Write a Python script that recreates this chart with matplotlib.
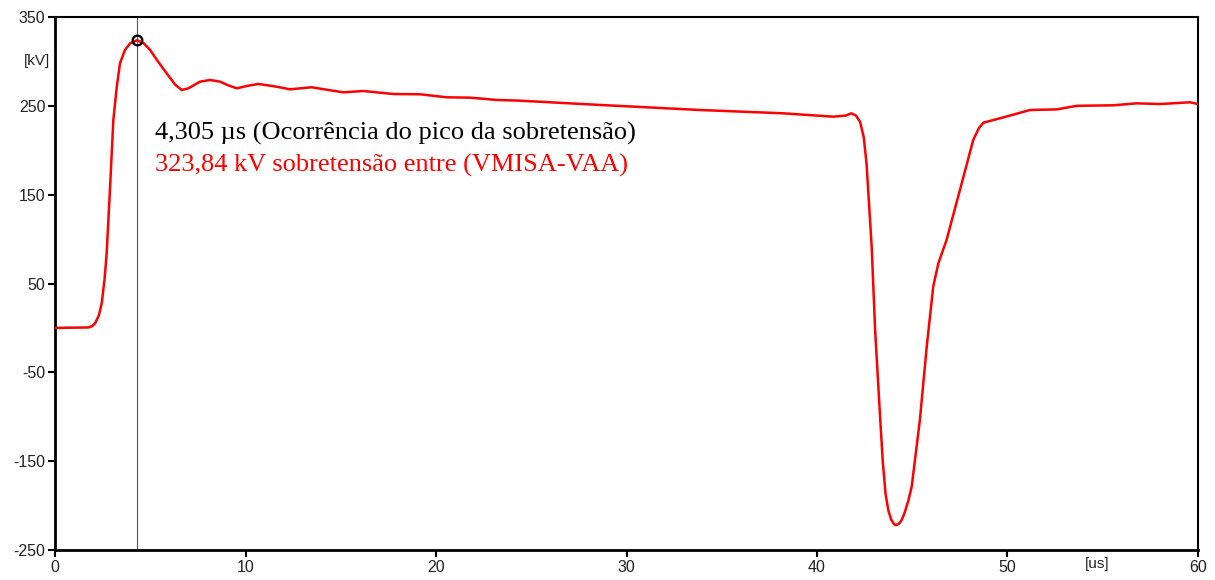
import numpy as np
import matplotlib.pyplot as plt

plt.rcParams['axes.unicode_minus'] = False

# tempo [us] e tensao [kV]
t_us = [0, 1.0, 1.75, 1.95, 2.1, 2.3, 2.45, 2.6, 2.71, 2.89, 3.06, 3.24, 3.41,
        3.67, 3.95, 4.305, 4.65, 4.99, 5.4, 5.86, 6.3, 6.65, 7.0, 7.61, 8.14,
        8.66, 9.1, 9.54, 10.1, 10.67, 11.5, 12.34, 13.47, 14.3, 15.13, 16.18,
        17.76, 19.16, 20.56, 21.78, 23.19, 24.4, 28.6, 33.86, 38.2, 40.86,
        41.5, 41.8, 42.05, 42.26, 42.45, 42.6, 42.87, 43.05, 43.3, 43.45,
        43.6, 43.75, 43.9, 44.05, 44.15, 44.3, 44.45, 44.6, 44.8, 44.97, 45.4,
        45.76, 46.1, 46.37, 46.8, 47.5, 48.2, 48.5, 48.73, 49.78, 51.18, 52.58,
        53.63, 55.56, 56.78, 58.0, 59.58, 60.0]
v_kv = [0, 0.3, 0.5, 2.0, 5.2, 14, 27.7, 55, 84, 159, 234, 271.5, 297.9,
        312.9, 320.5, 323.84, 320.5, 312.9, 300, 286.6, 274, 267.8, 269.7, 277.2, 279.1,
        277.2, 273, 269.7, 272.5, 274.6, 272, 268.6, 270.9, 268, 265.2, 266.7,
        263.3, 263, 259.6, 259.2, 256.6, 255.8, 251, 245.3, 241.6, 237.8,
        239, 241.6, 239, 232, 215, 185, 91.4, -2.3, -95.8, -150,
        -187, -206, -216, -221, -222, -220.5, -216, -208, -194, -178.7, -103.6,
        -21, 46.4, 72.7, 99, 155, 211.5, 225, 231, 237, 245.3, 246,
        250, 250.6, 252.8, 252, 254, 252]

peak_t = 4.305
peak_v = 323.84

yticks = [-250, -150, -50, 50, 150, 250, 350]
xticks = [0, 10, 20, 30, 40, 50, 60]

fig = plt.figure(figsize=(12.15, 5.8), dpi=100)
ax = fig.add_axes([0.0453, 0.0517, 0.9407, 0.919])

ax.plot(t_us, v_kv, color='#ff0000', lw=1.8, zorder=3, solid_joinstyle='round')
ax.axvline(peak_t, color='#555555', lw=0.8, zorder=2)
ax.plot([peak_t], [peak_v], marker='o', ms=7, mfc='none', mec='black', mew=1.6, zorder=4)

ax.set_xlim(0, 60)
ax.set_ylim(-250, 350)
ax.set_xticks(xticks)
ax.set_yticks(yticks)
ax.tick_params(direction='out', length=5, width=1.5, labelsize=11.5, colors='black', pad=2)
for s in ['left', 'bottom']:
    ax.spines[s].set_linewidth(2)
for s in ['top', 'right']:
    ax.spines[s].set_linewidth(1.5)

ax.text(-0.004, 301, '[kV]', transform=ax.get_yaxis_transform(), ha='right', va='center',
        fontsize=11, family='Liberation Sans', color='#222222')
ax.text(54.7, -258, '[us]', ha='center', va='top', fontsize=11, family='Liberation Sans',
        color='#222222')

ax.text(5.25, 212.3, '4,305 µs (Ocorrência do pico da sobretensão)', fontsize=19,
        family='Liberation Serif', color='black', va='baseline')
ax.text(5.25, 175.9, '323,84 kV sobretensão entre (VMISA-VAA)', fontsize=19,
        family='Liberation Serif', color='#ff0000', va='baseline')

for lab in ax.get_xticklabels() + ax.get_yticklabels():
    lab.set_family('Liberation Sans')
    lab.set_color('#222222')

fig.savefig('out.png', dpi=100)
